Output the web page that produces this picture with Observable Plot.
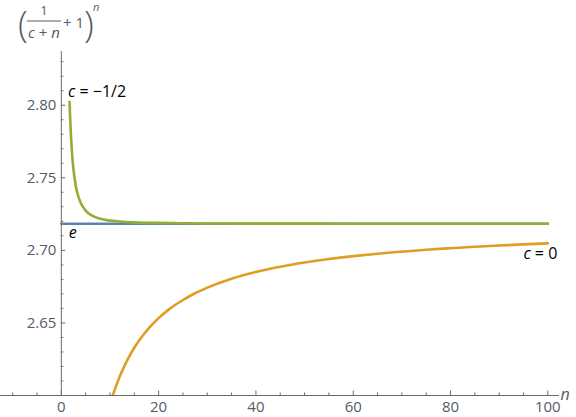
<!DOCTYPE html>
<html><head><meta charset="utf-8">
<script src="https://cdn.jsdelivr.net/npm/d3@7"></script>
<script src="https://cdn.jsdelivr.net/npm/@observablehq/plot@0.6"></script>
<style>
body{margin:0;background:#fff}
#chart{position:relative;width:576px;height:417px;overflow:hidden}
</style>
</head><body><div id="chart"></div>
<script>
// ---- data ----
const eValue = 2.71828;
const eN = [0, 100];

const c0N = [10, 10.5, 11, 12, 13, 14, 15, 16, 17, 18, 20, 22, 25, 27, 30, 35, 40, 45, 50, 55, 60, 65, 70, 75, 80, 85, 90, 95, 100];
const c0Y = [2.5937, 2.5992, 2.6042, 2.6130, 2.6206, 2.6272, 2.6329, 2.6379, 2.6424, 2.6464, 2.6533, 2.6590, 2.6658, 2.6696, 2.6743, 2.6805, 2.6851, 2.6887, 2.6916, 2.6940, 2.6960, 2.6977, 2.6991, 2.7004, 2.7015, 2.7025, 2.7033, 2.7041, 2.7048];

const cHalfN = [1.7, 1.8, 2, 2.25, 2.5, 3, 3.5, 4, 5, 6, 7, 8, 10, 12, 15, 20, 25, 30, 40, 50, 70, 100];
const cHalfY = [2.8023, 2.7926, 2.7778, 2.7648, 2.7557, 2.7440, 2.7371, 2.7326, 2.7274, 2.7246, 2.7229, 2.7218, 2.7205, 2.7199, 2.7193, 2.7189, 2.7187, 2.7185, 2.7184, 2.7184, 2.7183, 2.7183];

const xMajorTicks = [0, 20, 40, 60, 80, 100];
const xMinorTicks = [-10, -5, 5, 10, 15, 25, 30, 35, 45, 50, 55, 65, 70, 75, 85, 90, 95];
const yMajorTicks = [2.65, 2.70, 2.75, 2.80];
const yMinorTicks = [2.61, 2.62, 2.63, 2.64, 2.66, 2.67, 2.68, 2.69, 2.71, 2.72, 2.73, 2.74, 2.76, 2.77, 2.78, 2.79, 2.81, 2.82, 2.83];
const xTickLabels = ["0", "20", "40", "60", "80", "100"];
const yTickLabels = ["2.65", "2.70", "2.75", "2.80"];

const seriesLabels = ["c = \u22121/2", "e", "c = 0"];

// ---- tables ----
const eData = eN.map(n => ({n, y: eValue}));
const c0Data = c0N.map((n, i) => ({n, y: c0Y[i]}));
const cHalfData = cHalfN.map((n, i) => ({n, y: cHalfY[i]}));

const W = 576, H = 417;
const mL = 0, mR = 17, mT = 51, mB = 22;
const xDom = [-12.5, 102.4], yDom = [2.6, 2.837];
const xPerPx = (xDom[1] - xDom[0]) / (W - mL - mR);
const yPerPx = (yDom[1] - yDom[0]) / (H - mT - mB);

const axisColor = "#6b6b6b";
const labelColor = "#555b66";
const font = "'Open Sans', 'Noto Sans', sans-serif";

const plot = Plot.plot({
  width: W, height: H,
  marginLeft: mL, marginRight: mR, marginTop: mT, marginBottom: mB,
  x: {domain: xDom, axis: null},
  y: {domain: yDom, axis: null},
  style: {fontFamily: font, background: "white", overflow: "visible"},
  marks: [
    Plot.ruleY([yDom[0]], {y: d => d, stroke: axisColor, strokeWidth: 1}),
    Plot.ruleX([0], {x: d => d, stroke: axisColor, strokeWidth: 1}),
    Plot.ruleX(xMajorTicks, {x: d => d, y1: yDom[0], y2: yDom[0] + 4.5 * yPerPx, stroke: axisColor}),
    Plot.ruleX(xMinorTicks, {x: d => d, y1: yDom[0], y2: yDom[0] + 2.5 * yPerPx, stroke: axisColor}),
    Plot.ruleY(yMajorTicks, {y: d => d, x1: 0, x2: 4.5 * xPerPx, stroke: axisColor}),
    Plot.ruleY(yMinorTicks, {y: d => d, x1: 0, x2: 2.5 * xPerPx, stroke: axisColor}),
    Plot.text(xMajorTicks, {x: d => d, y: yDom[0], text: (d, i) => xTickLabels[i], dy: 12, fontSize: 15, fill: labelColor, lineAnchor: "middle"}),
    Plot.text(yMajorTicks, {x: 0, y: d => d, text: (d, i) => yTickLabels[i], dx: -5, textAnchor: "end", fontSize: 15, fill: labelColor}),
    Plot.line(eData, {x: "n", y: "y", stroke: "#5E81B5", strokeWidth: 2.6, clip: true}),
    Plot.line(c0Data, {x: "n", y: "y", stroke: "#E19C24", strokeWidth: 2.6, curve: "monotone-x", clip: true}),
    Plot.line(cHalfData, {x: "n", y: "y", stroke: "#8FB032", strokeWidth: 2.6, curve: "monotone-x", clip: true})
  ]
});

document.getElementById("chart").appendChild(plot);

const svg = d3.select(plot);
const sx = plot.scale("x"), sy = plot.scale("y");

function mixed(x, y, parts, anchor, size, color) {
  const t = svg.append("text").attr("x", x).attr("y", y)
    .attr("text-anchor", anchor).attr("font-size", size)
    .attr("font-family", font).attr("fill", color);
  parts.forEach(([s, it]) => t.append("tspan").attr("font-style", it ? "italic" : "normal").text(s));
  return t;
}

const pHalf = [sx.apply(cHalfN[0]), sy.apply(cHalfY[0])];
mixed(pHalf[0] - 1, pHalf[1] - 4.5, [["c", true], [seriesLabels[0].slice(1), false]], "start", 16, "#000");
const pE = [sx.apply(0), sy.apply(eValue)];
mixed(pE[0] + 8, pE[1] + 14.5, [[seriesLabels[1], true]], "start", 16, "#000");
const pC0 = [sx.apply(c0N[c0N.length - 1]), sy.apply(c0Y[c0Y.length - 1])];
mixed(pC0[0] + 10, pC0[1] + 16, [["c", true], [seriesLabels[2].slice(1), false]], "end", 16, "#000");

mixed(W - 11, H - mB + 5, [["n", true]], "middle", 16, labelColor);

mixed(23, 37, [["(", false]], "middle", 36, labelColor).attr("font-weight", 300);
mixed(44, 15, [["1", false]], "middle", 13, labelColor);
svg.append("line").attr("x1", 27).attr("x2", 61).attr("y1", 21).attr("y2", 21).attr("stroke", labelColor).attr("stroke-width", 1);
mixed(44, 38, [["c", true], [" + ", false], ["n", true]], "middle", 15, labelColor);
mixed(63, 28, [["+ 1", false]], "start", 15, labelColor);
mixed(89, 37, [[")", false]], "middle", 36, labelColor).attr("font-weight", 300);
mixed(93, 11, [["n", true]], "start", 11, labelColor);
</script>
</body></html>
